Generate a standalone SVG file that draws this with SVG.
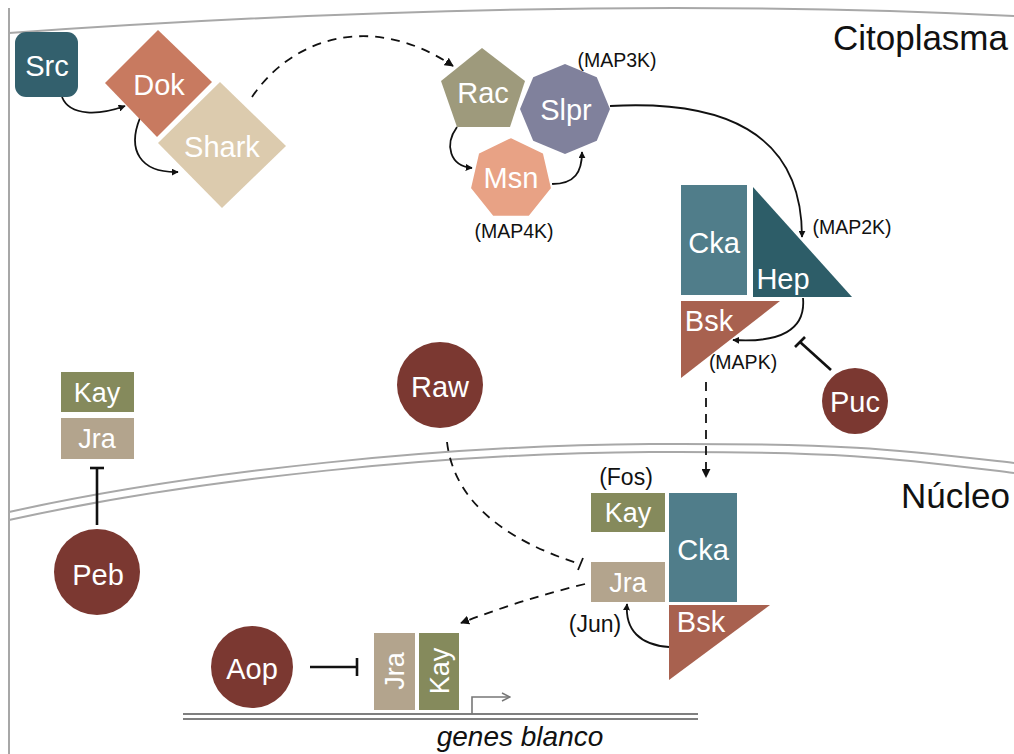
<svg xmlns="http://www.w3.org/2000/svg" width="1014" height="754" viewBox="0 0 1014 754">
<defs>
<marker id="ah" viewBox="0 0 10 10" refX="9" refY="5" markerWidth="7" markerHeight="7" orient="auto" markerUnits="userSpaceOnUse">
<path d="M0,0 L10,5 L0,10 z" fill="#111"/>
</marker>
<marker id="ahs" viewBox="0 0 10 10" refX="9" refY="5" markerWidth="9" markerHeight="9" orient="auto" markerUnits="userSpaceOnUse">
<path d="M0,0 L10,5 L0,10 z" fill="#111"/>
</marker>
<marker id="open" viewBox="0 0 10 10" refX="9" refY="5" markerWidth="10" markerHeight="10" orient="auto" markerUnits="userSpaceOnUse">
<path d="M1,1 L9,5 L1,9" fill="none" stroke="#777" stroke-width="1.4"/>
</marker>
</defs>
<style>
text{font-family:"Liberation Sans",Arial,Helvetica,sans-serif;}
.lbl{fill:#fff;text-anchor:middle;font-size:29px;}
.sm{fill:#fff;text-anchor:middle;font-size:27px;}
.note{fill:#111;text-anchor:middle;font-size:19.5px;}
.note2{fill:#111;text-anchor:middle;font-size:23px;}
.big{fill:#111;font-size:35px;}
.mem{fill:none;stroke:#a8a8a8;stroke-width:2;}
.arr{fill:none;stroke:#111;stroke-width:1.8;marker-end:url(#ah);}
.dash{fill:none;stroke:#111;stroke-width:1.8;stroke-dasharray:9,7;}
.inh{fill:none;stroke:#111;stroke-width:2.6;}
.circ{fill:#7b3831;}
</style>
<rect width="1014" height="754" fill="#fff"/>
<g id="membranes">
<line x1="9" y1="8" x2="9" y2="754" stroke="#8a8a8a" stroke-width="1.5"/>
<path class="mem" d="M9,33 Q560,-6 1014,16" stroke="#9a9a9a"/>
<path class="mem" d="M9,512 C200,470 450,445 650,444 S900,450 1014,463"/>
<path class="mem" d="M9,520 C200,478 450,453 650,452 S900,459 1014,473"/>
<line x1="183" y1="714" x2="698" y2="714" stroke="#555" stroke-width="1.6"/>
<line x1="183" y1="719" x2="698" y2="719" stroke="#555" stroke-width="1.6"/>
<path d="M472,714 L472,697 L510,697" fill="none" stroke="#777" stroke-width="1.6" marker-end="url(#open)"/>
</g>
<g id="labels">
<text class="big" x="1008" y="50" text-anchor="end">Citoplasma</text>
<text class="big" x="1010" y="508" text-anchor="end" font-size="34">Núcleo</text>
<text x="520" y="746" text-anchor="middle" font-size="28" font-style="italic" fill="#111">genes blanco</text>
<text class="note" x="617" y="67">(MAP3K)</text>
<text class="note" x="514" y="238">(MAP4K)</text>
<text class="note" x="852" y="234">(MAP2K)</text>
<text class="note" x="743" y="369">(MAPK)</text>
<text class="note2" x="626" y="485">(Fos)</text>
<text class="note2" x="595" y="632">(Jun)</text>
</g>
<g id="connectors">
<path class="arr" d="M62,97 C70,117 100,115 125,106"/>
<path class="arr" d="M140,118 C127,150 140,173 178,172"/>
<path class="dash" d="M252,97 C290,40 370,10 453,66" marker-end="url(#ahs)"/>
<path class="arr" d="M457,127 C444,145 450,166 472,168"/>
<path class="arr" d="M552,184 C575,184 582,172 582,152"/>
<path class="arr" d="M610,106 C720,100 802,130 802,237"/>
<path class="arr" d="M803,298 C806,330 780,343 733,340"/>
<line class="inh" x1="831" y1="370" x2="800" y2="342"/>
<line class="inh" x1="795" y1="347" x2="805" y2="337"/>
<path class="dash" d="M706,382 L706,477" marker-end="url(#ahs)"/>
<path class="dash" d="M447,442 C455,510 520,545 580,564"/>
<line x1="578" y1="570" x2="583" y2="558" stroke="#111" stroke-width="1.8"/>
<path class="dash" d="M585,584 Q520,600 461,623" marker-end="url(#ahs)"/>
<path class="arr" d="M669,647 C640,645 625,630 627,604"/>
<line class="inh" x1="97" y1="525" x2="97" y2="468"/>
<line class="inh" x1="90" y1="468" x2="104" y2="468"/>
<line class="inh" x1="310" y1="667" x2="357" y2="667"/>
<line class="inh" x1="357" y1="658" x2="357" y2="676"/>
</g>
<g id="Src"><rect x="15" y="32" width="63" height="65" rx="11" fill="#33606d"/><text class="lbl" x="47" y="76" font-size="31">Src</text></g>
<g id="Dok"><polygon points="158,30 212,82 157,137 105,83" fill="#c87a60"/><text class="lbl" x="159" y="95" font-size="30">Dok</text></g>
<g id="Shark"><polygon points="220,82 286,146 222,208 158,143" fill="#dccbae"/><text class="lbl" x="222" y="157">Shark</text></g>
<g id="Rac"><polygon points="482,48 525,81 510,127 457,127 441,81" fill="#9e9a7c"/><text class="lbl" x="483" y="103">Rac</text></g>
<g id="Slpr"><polygon points="610,109 596.8,140.8 565,154 533.2,140.8 520,109 533.2,77.2 565,64 596.8,77.2" fill="#80819c"/><text class="lbl" x="566" y="120" font-size="31">Slpr</text></g>
<g id="Msn"><polygon points="511,137 543.8,152.8 552,188.3 529.2,216.8 492.8,216.8 470,188.3 478.2,152.8" fill="#e8a285" stroke="#fff" stroke-width="2"/><text class="lbl" x="511" y="188" font-size="30">Msn</text></g>
<g id="Cka1"><rect x="681" y="185" width="66" height="110" fill="#507d8a"/><text class="lbl" x="714" y="253" font-size="31">Cka</text></g>
<g id="Hep"><polygon points="753,187 753,297 852,297" fill="#2d5d68"/><text class="lbl" x="783" y="289">Hep</text></g>
<g id="Bsk1"><polygon points="681,301 780,301 681,378" fill="#a8614f"/><text class="lbl" x="709" y="331" font-size="31">Bsk</text></g>
<g id="Puc"><circle class="circ" cx="855" cy="401" r="33"/><text class="lbl" x="855" y="412" font-size="30">Puc</text></g>
<g id="Raw"><circle class="circ" cx="440" cy="385" r="43"/><text class="lbl" x="440" y="397" font-size="31">Raw</text></g>
<g id="Kay1"><rect x="61" y="372" width="73" height="40" fill="#858a5c"/><text class="sm" x="97" y="402">Kay</text></g>
<g id="Jra1"><rect x="61" y="418" width="73" height="41" fill="#b3a48d"/><text class="sm" x="97" y="448">Jra</text></g>
<g id="Peb"><circle class="circ" cx="97" cy="572" r="43"/><text class="lbl" x="98" y="585" font-size="33">Peb</text></g>
<g id="Kay2"><rect x="591" y="493" width="74" height="39" fill="#858a5c"/><text class="sm" x="628" y="522">Kay</text></g>
<g id="Cka2"><rect x="669" y="493" width="68" height="109" fill="#507d8a"/><text class="lbl" x="703" y="560" font-size="30">Cka</text></g>
<g id="Jra2"><rect x="591" y="562" width="74" height="40" fill="#b3a48d"/><text class="sm" x="628" y="592">Jra</text></g>
<g id="Bsk2"><polygon points="669,605 770,605 669,680" fill="#a8614f"/><text class="lbl" x="701" y="632" font-size="30">Bsk</text></g>
<g id="Aop"><circle class="circ" cx="252" cy="667" r="41"/><text class="lbl" x="252" y="679" font-size="33">Aop</text></g>
<g id="Jra3"><rect x="374" y="633" width="41" height="77" fill="#b3a48d"/><text class="sm" transform="translate(404,671) rotate(-90)" x="0" y="0">Jra</text></g>
<g id="Kay3"><rect x="419" y="633" width="40" height="77" fill="#858a5c"/><text class="sm" transform="translate(449,671) rotate(-90)" x="0" y="0">Kay</text></g>
</svg>
